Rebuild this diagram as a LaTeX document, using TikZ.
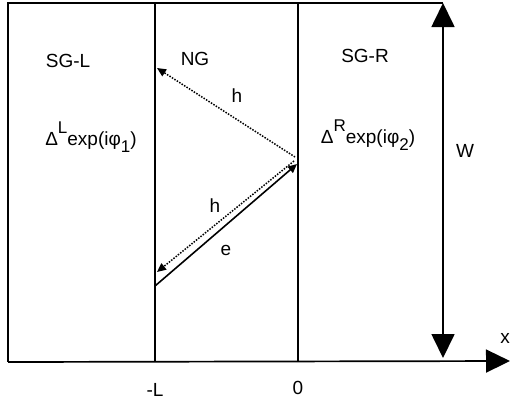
\documentclass[tikz,border=0pt]{standalone}
\usepackage{fontspec}
\setmainfont{Liberation Sans}
\usetikzlibrary{positioning, arrows.meta}

\newcommand{\supsize}{\fontsize{17}{20}\selectfont}

\begin{document}
\begin{tikzpicture}[
		x=1pt, y=-1pt, line width=1.7pt,
		lbl/.style={font=\fontsize{19}{22}\selectfont, inner sep=1pt, anchor=base},
		hole/.style={dash pattern=on 1.5pt off 1.4pt, line width=1.5pt, -{Triangle[length=9pt, width=8pt]}},
		elec/.style={line width=1.6pt, -{Triangle[length=9pt, width=8pt]}},
		bigtip/.tip={Triangle[length=24pt, width=23pt]}
		]
		\useasboundingbox (0,0) rectangle (510,405);
		
		% Corners of the junction and the two interfaces
		\coordinate (tl) at (8,3);
		\coordinate (bl) at (8,362);
		\coordinate (tr) at (443,3);
		\coordinate (br) at (443,358);
		\coordinate (xend) at (510,361);
		\coordinate (Lt) at (155,3);
		\coordinate (Lb) at (155,362);
		\coordinate (Ot) at (298,3);
		\coordinate (Ob) at (298,361);
		
		\draw (tr) -- (tl) -- (bl);
		\draw (Lt) -- (Lb);
		\draw (Ot) -- (Ob);
		\draw[-bigtip] (bl) -- (xend);
		\draw[bigtip-bigtip] (br) -- (tr);
		
		% Andreev reflection at x = 0
		\coordinate (refl) at (295,157);
		\coordinate (hup) at (157,68);
		\coordinate (refl2) at (294,161);
		\coordinate (hdn) at (157,272);
		\coordinate (estart) at (155,286);
		\coordinate (eend) at (297,164);
		
		\draw[hole] (refl) -- (hup);
		\draw[hole] (refl2) -- (hdn);
		\draw[elec] (estart) -- (eend);
		
		% Labels
		\node[lbl] (sgl) at (68,67) {SG-L};
		\node[lbl] (dl) at (91,145) {Δ\raisebox{12pt}{\supsize L}exp(iφ\raisebox{-7pt}{\supsize 1})};
		\node[lbl] (ng) at (195,65) {NG};
		\node[lbl] (hlab1) at (237,102) {h};
		\node[lbl] (hlab2) at (215,212) {h};
		\node[lbl] (elab) at (226,255) {e};
		\node[lbl] (sgr) at (365,62) {SG-R};
		\node[lbl] (dr) at (368,143) {Δ\raisebox{12pt}{\supsize R}exp(iφ\raisebox{-7pt}{\supsize 2})};
		\node[lbl] (wlab) at (465,157) {W};
		\node[lbl] (xlab) at (505,343) {x};
		\node[lbl, anchor=north, below=20pt of Lb] (mL) {-L};
		\node[lbl, anchor=north, below=18pt of Ob] (zero) {0};
		
	\end{tikzpicture}
\end{document}
